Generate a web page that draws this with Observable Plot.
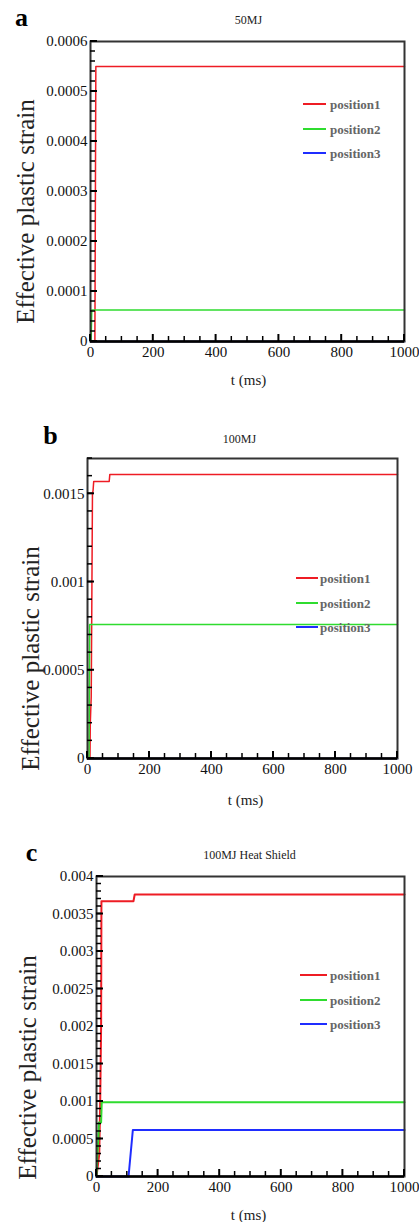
<!DOCTYPE html>
<html><head><meta charset="utf-8">
<script src="https://cdn.jsdelivr.net/npm/d3@7"></script>
<script src="https://cdn.jsdelivr.net/npm/@observablehq/plot@0.6"></script>
<style>body{margin:0;background:#fff;} #chart{width:419px;} #chart svg{display:block;}</style>
</head><body><div id="chart"></div>
<script>
const seriesNames = ["position1", "position2", "position3"];
const seriesColors = ["#ee1c24", "#2fdc2f", "#1f2dff"];
const xLabel = "t (ms)";
const yLabel = "Effective plastic strain";
const panelLetters = ["a", "b", "c"];
const panelTitles = ["50MJ", "100MJ", "100MJ Heat Shield"];

// Panel a (50MJ)
const tA1 = [0, 14, 17, 1000], vA1 = [0, 0, 0.00055, 0.00055];
const tA2 = [0, 2, 4, 1000], vA2 = [0, 0, 0.000063, 0.000063];
const tA3 = [0, 1000], vA3 = [0, 0];
// Panel b (100MJ)
const tB1 = [0, 8, 9, 12, 14, 16, 18, 20, 70, 72, 1000];
const vB1 = [0, 0, 0.0002, 0.00035, 0.0009, 0.0015, 0.00152, 0.00157, 0.00157, 0.00161, 0.00161];
const tB2 = [0, 5, 7, 1000], vB2 = [0, 0, 0.00076, 0.00076];
const tB3 = [0, 1000], vB3 = [0, 0];
// Panel c (100MJ Heat Shield)
const tC1 = [0, 6, 9, 12, 15, 16, 120, 124, 1000];
const vC1 = [0, 0.0002, 0.0003, 0.001, 0.002, 0.00367, 0.00367, 0.00376, 0.00376];
const tC2 = [0, 3, 6, 8, 15, 17, 1000];
const vC2 = [0, 0.0003, 0.0005, 0.00072, 0.00072, 0.00099, 0.00099];
const tC3 = [0, 104, 118, 1000], vC3 = [0, 0, 0.00062, 0.00062];

const xTicks = [0, 200, 400, 600, 800, 1000];
const yTicksA = [0, 0.0001, 0.0002, 0.0003, 0.0004, 0.0005, 0.0006];
const yTicksB = [0, 0.0005, 0.001, 0.0015];
const yTicksC = [0, 0.0005, 0.001, 0.0015, 0.002, 0.0025, 0.003, 0.0035, 0.004];

const zip = (t, v) => t.map((d, i) => ({t: d, v: v[i]}));

const panels = [
  {height: 400, mt: 41, mb: 59, ml: 90, mr: 15, yDomain: [0, 0.0006], yTicks: yTicksA, yMinor: 0.00002,
   series: [[tA1, vA1], [tA2, vA2], [tA3, vA3]], lw: 1.5,
   letter: {dx: -69, dy: -16}, title: {dx: 1, dy: -21}, yl: {dx: -65, dy: 20}, xl: {dx: 1, dy: 39},
   legend: {x1: 303, x2: 326, tx: 330, ys: [104, 129, 153]}},
  {height: 410, mt: 58, mb: 52, ml: 87, mr: 22, yDomain: [0, 0.0017], yTicks: yTicksB, yMinor: 0.0001,
   series: [[tB1, vB1], [tB2, vB2], [tB3, vB3]], lw: 1.5,
   letter: {dx: -37, dy: -15}, title: {dx: -3, dy: -19}, yl: {dx: -57, dy: 50}, xl: {dx: 3, dy: 42},
   legend: {x1: 296, x2: 318, tx: 320, ys: [178, 203, 227]}},
  {height: 412, mt: 66, mb: 46, ml: 96, mr: 15, yDomain: [0, 0.004], yTicks: yTicksC, yMinor: 0.0001,
   series: [[tC1, vC1], [tC2, vC2], [tC3, vC3]], lw: 2,
   letter: {dx: -65, dy: -16}, title: {dx: -1, dy: -21}, yl: {dx: -69, dy: 41}, xl: {dx: -2, dy: 39},
   legend: {x1: 300, x2: 327, tx: 330, ys: [165, 190, 214]}}
];

const font = "'Liberation Serif', 'Times New Roman', serif";
const chart = document.getElementById("chart");

panels.forEach((p, i) => {
  const xMinor = d3.range(0, 1001, 50).filter(d => !xTicks.includes(d));
  const yMinor = d3.range(0, p.yDomain[1] + 1e-9, p.yMinor);
  const svg = Plot.plot({
    width: 419, height: p.height,
    marginTop: p.mt, marginBottom: p.mb, marginLeft: p.ml, marginRight: p.mr,
    style: {fontFamily: font, background: "white", overflow: "visible"},
    x: {domain: [0, 1000], axis: null},
    y: {domain: p.yDomain, axis: null},
    marks: [
      ...p.series.map(([t, v], k) => Plot.line(zip(t, v), {x: "t", y: "v", stroke: seriesColors[k], strokeWidth: p.lw})),
      Plot.frame({stroke: "#333", strokeWidth: 2}),
      Plot.ruleY([p.yDomain[0]], {stroke: "#000", strokeWidth: 2.5}),
      Plot.axisX({ticks: xTicks, tickSize: 0, tickPadding: 5, fontSize: 15, fill: "#111", label: null, tickFormat: d => String(d)}),
      Plot.axisY({ticks: p.yTicks, tickSize: 0, tickPadding: 3, fontSize: 15, fill: "#111", label: null, tickFormat: d => String(d)}),
      Plot.text([panelLetters[i]], {text: d => d, frameAnchor: "top-left", dx: p.letter.dx, dy: p.letter.dy,
        fontSize: 26, fontWeight: "bold", textAnchor: "middle", lineAnchor: "bottom", fill: "#000"}),
      Plot.text([panelTitles[i]], {text: d => d, frameAnchor: "top", dx: p.title.dx, dy: p.title.dy,
        fontSize: 12, textAnchor: "middle", lineAnchor: "middle", fill: "#222"}),
      Plot.text([yLabel], {text: d => d, frameAnchor: "left", dx: p.yl.dx, dy: p.yl.dy, rotate: -90,
        fontSize: 25, textAnchor: "middle", lineAnchor: "middle", fill: "#222"}),
      Plot.text([xLabel], {text: d => d, frameAnchor: "bottom", dx: p.xl.dx, dy: p.xl.dy,
        fontSize: 15, textAnchor: "middle", lineAnchor: "middle", fill: "#222"})
    ]
  });
  // inward ticks, positioned through Plot's own scales
  const xs = svg.scale("x"), ys = svg.scale("y");
  const x0 = p.ml, y0 = p.height - p.mb;
  const tg = d3.select(svg).append("g").attr("class", "inner-ticks");
  const tick = (x1, y1, x2, y2, w) => tg.append("line")
    .attr("x1", x1).attr("y1", y1).attr("x2", x2).attr("y2", y2)
    .attr("stroke", "#000").attr("stroke-width", w);
  xTicks.forEach(d => tick(xs.apply(d), y0, xs.apply(d), y0 - 7, 2));
  xMinor.forEach(d => tick(xs.apply(d), y0, xs.apply(d), y0 - 5, 1.5));
  p.yTicks.forEach(d => tick(x0, ys.apply(d), x0 + 7, ys.apply(d), 2));
  yMinor.forEach(d => tick(x0, ys.apply(d), x0 + 5, ys.apply(d), 1.5));

  const g = d3.select(svg).append("g").attr("class", "legend").attr("text-anchor", "start");
  seriesNames.forEach((name, k) => {
    const y = p.legend.ys[k];
    g.append("line").attr("x1", p.legend.x1).attr("x2", p.legend.x2).attr("y1", y).attr("y2", y)
      .attr("stroke", seriesColors[k]).attr("stroke-width", 2);
    g.append("text").attr("x", p.legend.tx).attr("y", y).attr("dy", "0.35em")
      .attr("text-anchor", "start")
      .attr("font-family", font).attr("font-size", 13).attr("font-weight", "bold")
      .attr("fill", "#666").text(name);
  });
  chart.appendChild(svg);
});
</script>
</body></html>
